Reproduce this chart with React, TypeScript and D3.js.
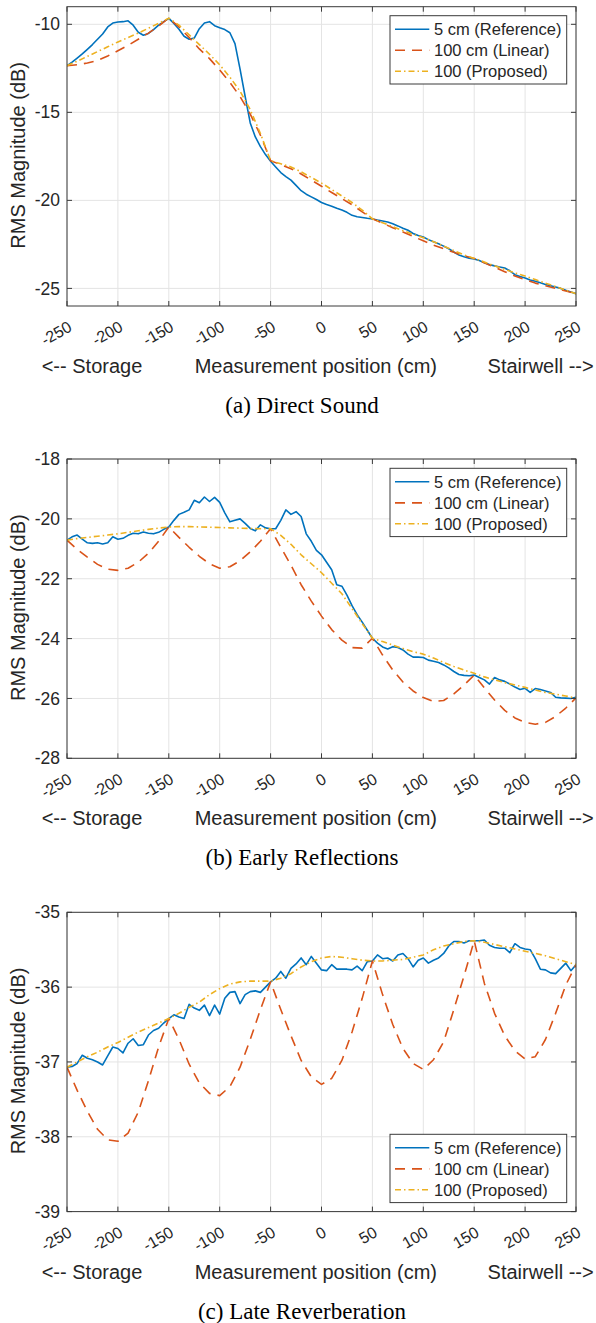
import React from "react";
import * as d3 from "d3";

// Measurement positions (cm): 5 cm grid for the reference, 10 cm for the interpolations
const POS_FINE = d3.range(-250, 251, 5);
const POS_COARSE = d3.range(-250, 251, 10);
const X_TICKS = [-250, -200, -150, -100, -50, 0, 50, 100, 150, 200, 250];

const SERIES_NAMES = ["5 cm (Reference)", "100 cm (Linear)", "100 (Proposed)"];

// (a) Direct sound
const directRef = [
  -12.35, -12.15, -11.92, -11.68, -11.42, -11.15, -10.85, -10.55, -10.15, -9.93,
  -9.87, -9.85, -9.8, -10.05, -10.45, -10.62, -10.52, -10.3, -10.05, -9.85,
  -9.66, -9.95, -10.28, -10.68, -10.85, -10.78, -10.25, -9.93, -9.85, -10.08,
  -10.2, -10.3, -10.48, -11.1, -12.55, -14.1, -15.6, -16.4, -16.95, -17.4,
  -17.78, -18.1, -18.42, -18.65, -18.85, -19.15, -19.45, -19.65, -19.8, -19.95,
  -20.12, -20.24, -20.33, -20.45, -20.55, -20.68, -20.85, -20.93, -20.97, -21.02,
  -21.06, -21.12, -21.17, -21.23, -21.33, -21.45, -21.58, -21.7, -21.88, -22.0,
  -22.08, -22.23, -22.35, -22.47, -22.6, -22.75, -22.93, -23.1, -23.2, -23.28,
  -23.33, -23.42, -23.55, -23.65, -23.72, -23.78, -23.84, -24.0, -24.22, -24.33,
  -24.41, -24.52, -24.6, -24.68, -24.78, -24.85, -24.92, -25.0, -25.11, -25.2,
  -25.3,
];
const directLinear = [
  -12.35, -12.3, -12.2, -12.05, -11.8, -11.5, -11.2, -10.85, -10.5, -10.1,
  -9.65, -10.15, -10.75, -11.4, -11.95, -12.6, -13.3, -14.1, -15.1, -16.3,
  -17.75, -17.97, -18.2, -18.5, -18.85, -19.2, -19.55, -19.9, -20.25, -20.65,
  -21.05, -21.3, -21.55, -21.8, -22.05, -22.3, -22.55, -22.75, -22.95, -23.15,
  -23.3, -23.55, -23.8, -24.05, -24.3, -24.5, -24.7, -24.85, -25.0, -25.15,
  -25.3,
];
const directProposed = [
  -12.35, -12.1, -11.82, -11.55, -11.28, -11.0, -10.75, -10.5, -10.22, -9.95,
  -9.65, -10.05, -10.6, -11.15, -11.7, -12.3, -13.0, -13.8, -14.85, -16.2,
  -17.75, -17.92, -18.1, -18.38, -18.7, -19.02, -19.38, -19.75, -20.12, -20.55,
  -21.05, -21.27, -21.5, -21.72, -21.93, -22.12, -22.35, -22.6, -22.85, -23.1,
  -23.3, -23.5, -23.72, -23.92, -24.12, -24.3, -24.5, -24.7, -24.9, -25.1,
  -25.3,
];

// (b) Early reflections
const earlyRef = [
  -20.71, -20.6, -20.54, -20.68, -20.8, -20.82, -20.8, -20.84, -20.8, -20.6,
  -20.68, -20.65, -20.55, -20.48, -20.5, -20.44, -20.48, -20.5, -20.45, -20.35,
  -20.27, -20.05, -19.85, -19.78, -19.7, -19.38, -19.46, -19.27, -19.42, -19.28,
  -19.45, -19.8, -20.1, -20.05, -20.0, -20.15, -20.32, -20.4, -20.2, -20.3,
  -20.33, -20.33, -20.05, -19.7, -19.85, -19.76, -19.92, -20.5, -20.75, -21.05,
  -21.2, -21.45, -21.7, -22.2, -22.25, -22.55, -22.9, -23.2, -23.45, -23.72,
  -23.99, -24.15, -24.28, -24.35, -24.27, -24.3, -24.38, -24.52, -24.62, -24.62,
  -24.63, -24.72, -24.76, -24.8, -24.88, -24.98, -25.1, -25.2, -25.23, -25.24,
  -25.22, -25.3, -25.38, -25.52, -25.3, -25.38, -25.43, -25.52, -25.62, -25.7,
  -25.66, -25.8, -25.67, -25.7, -25.75, -25.8, -25.96, -25.98, -25.99, -26.0,
  -25.96,
];
const earlyLinear = [
  -20.71, -21.02, -21.28, -21.52, -21.68, -21.72, -21.65, -21.45, -21.15, -20.75,
  -20.27, -20.62, -20.95, -21.25, -21.5, -21.65, -21.6, -21.4, -21.1, -20.75,
  -20.33, -20.95, -21.55, -22.2, -22.75, -23.25, -23.7, -24.05, -24.3, -24.32,
  -23.99, -24.55, -25.05, -25.45, -25.75, -25.97, -26.1, -26.07, -25.85, -25.55,
  -25.22, -25.65, -26.05, -26.4, -26.65, -26.8, -26.86, -26.8, -26.6, -26.32,
  -25.98,
];
const earlyProposed = [
  -20.71, -20.66, -20.62, -20.58, -20.54, -20.5, -20.45, -20.4, -20.35, -20.31,
  -20.27, -20.26, -20.26, -20.27, -20.28, -20.29, -20.3, -20.31, -20.32, -20.33,
  -20.33, -20.55, -20.85, -21.2, -21.5, -21.8, -22.15, -22.5, -23.0, -23.5,
  -23.99, -24.1, -24.22, -24.33, -24.44, -24.52, -24.65, -24.8, -24.93, -25.05,
  -25.16, -25.28, -25.38, -25.47, -25.55, -25.63, -25.72, -25.8, -25.86, -25.92,
  -25.98,
];

// (c) Late reverberation
const lateRef = [
  -37.07, -37.06, -37.02, -36.91, -36.95, -36.97, -37.0, -37.04, -36.92, -36.8,
  -36.82, -36.88, -36.75, -36.69, -36.78, -36.77, -36.64, -36.58, -36.55, -36.48,
  -36.42, -36.37, -36.4, -36.42, -36.23, -36.28, -36.31, -36.24, -36.38, -36.24,
  -36.36, -36.15, -36.07, -36.06, -36.22, -36.1, -36.06, -36.05, -36.07, -36.0,
  -35.93, -35.88, -35.79, -35.88, -35.75, -35.69, -35.61, -35.7, -35.59, -35.68,
  -35.77, -35.78, -35.7, -35.76, -35.76, -35.76, -35.77, -35.72, -35.78, -35.66,
  -35.65, -35.57, -35.62, -35.61, -35.65, -35.57, -35.55, -35.62, -35.73, -35.64,
  -35.61, -35.68, -35.64, -35.61, -35.55, -35.45, -35.39, -35.39, -35.41, -35.38,
  -35.38, -35.38, -35.37, -35.44, -35.47, -35.48, -35.48, -35.54, -35.42, -35.47,
  -35.49, -35.5, -35.62, -35.76, -35.77, -35.81, -35.82, -35.75, -35.68, -35.78,
  -35.7,
];
const lateLinear = [
  -37.07, -37.38, -37.66, -37.9, -38.04, -38.06, -37.95, -37.67, -37.25, -36.8,
  -36.42, -36.7, -37.03, -37.28, -37.42, -37.45, -37.33, -37.07, -36.7, -36.3,
  -35.93, -36.3, -36.65, -36.98, -37.2, -37.3, -37.22, -36.98, -36.6, -36.15,
  -35.65, -36.1, -36.5, -36.82, -37.02, -37.1, -36.97, -36.73, -36.3, -35.85,
  -35.38, -35.95, -36.35, -36.65, -36.85, -36.96, -36.93, -36.7, -36.35, -35.97,
  -35.7,
];
const lateProposed = [
  -37.07, -37.0, -36.93, -36.87, -36.8, -36.74, -36.67, -36.6, -36.54, -36.48,
  -36.42, -36.35, -36.27, -36.2, -36.1, -36.02, -35.96, -35.93, -35.92, -35.92,
  -35.92, -35.88, -35.82, -35.73, -35.66, -35.61, -35.59, -35.6, -35.62, -35.64,
  -35.65, -35.65, -35.64, -35.63, -35.6, -35.57, -35.5, -35.45, -35.42, -35.39,
  -35.38, -35.4, -35.43, -35.46, -35.49, -35.52, -35.55, -35.58, -35.62, -35.66,
  -35.7,
];

const yTicksDirect = [-25, -20, -15, -10];
const yTicksEarly = [-28, -26, -24, -22, -20, -18];
const yTicksLate = [-39, -38, -37, -36, -35];

const COLORS = ["#0072BD", "#D95319", "#EDB120"];
const DASHES = [null, "10,7", "6,3,1.5,3"];

const SANS = "'Liberation Sans', Arial, Helvetica, sans-serif";
const SERIF = "'Liberation Serif', 'Times New Roman', serif";
const TXT = "#262626";

const LEFT = 67;
const RIGHT = 576;
const PLOT_H = 299.3;

type PanelSpec = {
  id: string;
  top: number;
  yDomain: [number, number];
  yTicks: number[];
  series: number[][];
  legendTop: number;
  caption: string;
};

const panels: PanelSpec[] = [
  {
    id: "a",
    top: 6.7,
    yDomain: [-26, -9],
    yTicks: yTicksDirect,
    series: [directRef, directLinear, directProposed],
    legendTop: 15.7,
    caption: "(a) Direct Sound",
  },
  {
    id: "b",
    top: 459,
    yDomain: [-28, -18],
    yTicks: yTicksEarly,
    series: [earlyRef, earlyLinear, earlyProposed],
    legendTop: 468.3,
    caption: "(b) Early Reflections",
  },
  {
    id: "c",
    top: 912.3,
    yDomain: [-39, -35],
    yTicks: yTicksLate,
    series: [lateRef, lateLinear, lateProposed],
    legendTop: 1134.3,
    caption: "(c) Late Reverberation",
  },
];

function Panel({ spec }: { spec: PanelSpec }) {
  const bottom = spec.top + PLOT_H;
  const x = d3.scaleLinear().domain([-250, 250]).range([LEFT, RIGHT]);
  const y = d3.scaleLinear().domain(spec.yDomain).range([bottom, spec.top]);
  const line = d3
    .line<[number, number]>()
    .x((d) => x(d[0]))
    .y((d) => y(d[1]));

  const clipId = `clip-${spec.id}`;
  const tickLen = 5;
  const legW = 176.7;
  const legH = 68.3;
  const legX = 390;
  const rowOffsets = [13.5, 34.6, 55.5];

  return (
    <g>
      <defs>
        <clipPath id={clipId}>
          <rect x={LEFT} y={spec.top} width={RIGHT - LEFT} height={PLOT_H} />
        </clipPath>
      </defs>
      <rect x={LEFT} y={spec.top} width={RIGHT - LEFT} height={PLOT_H} fill="#fff" />
      {/* grid */}
      {X_TICKS.map((t) => (
        <line key={`gx${t}`} x1={x(t)} x2={x(t)} y1={spec.top} y2={bottom} stroke="#e4e4e4" strokeWidth={1} />
      ))}
      {spec.yTicks.map((t) => (
        <line key={`gy${t}`} x1={LEFT} x2={RIGHT} y1={y(t)} y2={y(t)} stroke="#e4e4e4" strokeWidth={1} />
      ))}
      {/* series */}
      <g clipPath={`url(#${clipId})`}>
        {spec.series.map((vals, i) => {
          const pos = i === 0 ? POS_FINE : POS_COARSE;
          const pts = vals.map((v, k) => [pos[k], v] as [number, number]);
          return (
            <path
              key={i}
              d={line(pts) || ""}
              fill="none"
              stroke={COLORS[i]}
              strokeWidth={1.6}
              strokeDasharray={DASHES[i] || undefined}
              strokeLinejoin="round"
            />
          );
        })}
      </g>
      {/* box and ticks */}
      <rect x={LEFT} y={spec.top} width={RIGHT - LEFT} height={PLOT_H} fill="none" stroke="#3a3a3a" strokeWidth={1} />
      {X_TICKS.map((t) => (
        <g key={`tx${t}`}>
          <line x1={x(t)} x2={x(t)} y1={bottom} y2={bottom - tickLen} stroke="#3a3a3a" />
          <line x1={x(t)} x2={x(t)} y1={spec.top} y2={spec.top + tickLen} stroke="#3a3a3a" />
          <text
            transform={`translate(${x(t) + 6},${bottom + 24}) rotate(-30)`}
            textAnchor="end"
            fontFamily={SANS}
            fontSize={16}
            fill={TXT}
          >
            {t}
          </text>
        </g>
      ))}
      {spec.yTicks.map((t) => (
        <g key={`ty${t}`}>
          <line x1={LEFT} x2={LEFT + tickLen} y1={y(t)} y2={y(t)} stroke="#3a3a3a" />
          <line x1={RIGHT} x2={RIGHT - tickLen} y1={y(t)} y2={y(t)} stroke="#3a3a3a" />
          <text x={60} y={y(t)} dy="0.35em" textAnchor="end" fontFamily={SANS} fontSize={17.5} fill={TXT}>
            {t}
          </text>
        </g>
      ))}
      {/* axis labels */}
      <text
        transform={`translate(24.5,${spec.top + PLOT_H / 2 - 1}) rotate(-90)`}
        textAnchor="middle"
        fontFamily={SANS}
        fontSize={20}
        fill={TXT}
      >
        RMS Magnitude (dB)
      </text>
      <text x={41.7} y={bottom + 67} fontFamily={SANS} fontSize={20} fill={TXT}>
        {"<-- Storage"}
      </text>
      <text x={315.8} y={bottom + 67} textAnchor="middle" fontFamily={SANS} fontSize={20} fill={TXT}>
        Measurement position (cm)
      </text>
      <text x={593.7} y={bottom + 67} textAnchor="end" fontFamily={SANS} fontSize={20} fill={TXT}>
        {"Stairwell -->"}
      </text>
      {/* legend */}
      <rect x={legX} y={spec.legendTop} width={legW} height={legH} fill="#fff" stroke="#3a3a3a" strokeWidth={1} />
      {SERIES_NAMES.map((name, i) => {
        const ly = spec.legendTop + rowOffsets[i];
        return (
          <g key={name}>
            <line
              x1={legX + 5}
              x2={legX + 39.3}
              y1={ly}
              y2={ly}
              stroke={COLORS[i]}
              strokeWidth={1.6}
              strokeDasharray={DASHES[i] || undefined}
            />
            <text x={legX + 44} y={ly} dy="0.35em" fontFamily={SANS} fontSize={16.5} fill={TXT}>
              {name}
            </text>
          </g>
        );
      })}
      {/* caption */}
      <text x={302} y={bottom + 107} textAnchor="middle" fontFamily={SERIF} fontSize={23} fill="#000">
        {spec.caption}
      </text>
    </g>
  );
}

export default function App() {
  return (
    <svg
      width={596}
      height={1323}
      viewBox="0 0 596 1323"
      style={{ position: "absolute", left: 0, top: 0, background: "#fff" }}
    >
      <rect x={0} y={0} width={596} height={1323} fill="#fff" />
      {panels.map((p) => (
        <Panel key={p.id} spec={p} />
      ))}
    </svg>
  );
}
